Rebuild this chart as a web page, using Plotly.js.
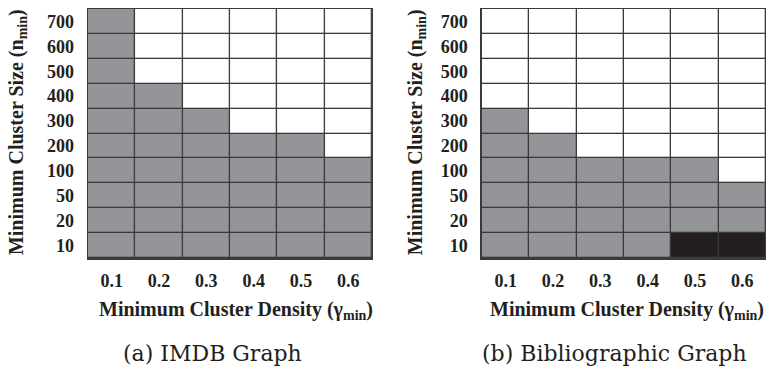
<!DOCTYPE html>
<html>
<head>
<meta charset="utf-8">
<script src="https://cdn.plot.ly/plotly-3.0.1.min.js"></script>
<style>
  html, body { margin: 0; padding: 0; background: #fff; }
  #chart { width: 766px; height: 369px; }
</style>
</head>
<body>
<div id="chart"></div>
<script>
// Minimum cluster density thresholds (columns) and minimum cluster sizes (rows, bottom to top)
const densities = ['0.1', '0.2', '0.3', '0.4', '0.5', '0.6'];
const sizes = ['10', '20', '50', '100', '200', '300', '400', '500', '600', '700'];

// Cell state per (size, density): 0 = no result, 1 = clusters found, 2 = special case (dark)
const imdbStatus = [
  [1, 1, 1, 1, 1, 1], // 10
  [1, 1, 1, 1, 1, 1], // 20
  [1, 1, 1, 1, 1, 1], // 50
  [1, 1, 1, 1, 1, 1], // 100
  [1, 1, 1, 1, 1, 0], // 200
  [1, 1, 1, 0, 0, 0], // 300
  [1, 1, 0, 0, 0, 0], // 400
  [1, 0, 0, 0, 0, 0], // 500
  [1, 0, 0, 0, 0, 0], // 600
  [1, 0, 0, 0, 0, 0]  // 700
];
const biblioStatus = [
  [1, 1, 1, 1, 2, 2], // 10
  [1, 1, 1, 1, 1, 1], // 20
  [1, 1, 1, 1, 1, 1], // 50
  [1, 1, 1, 1, 1, 0], // 100
  [1, 1, 0, 0, 0, 0], // 200
  [1, 0, 0, 0, 0, 0], // 300
  [0, 0, 0, 0, 0, 0], // 400
  [0, 0, 0, 0, 0, 0], // 500
  [0, 0, 0, 0, 0, 0], // 600
  [0, 0, 0, 0, 0, 0]  // 700
];

const captions = ['(a) IMDB Graph', '(b) Bibliographic Graph'];

const GRAY = '#939598';
const DARK = '#231f20';
const GRID = '#3a3a3a';
const stateScale = [[0, '#ffffff'], [0.33, '#ffffff'], [0.34, GRAY], [0.66, GRAY], [0.67, DARK], [1, DARK]];

function cellTrace(z, xa, ya) {
  return {
    type: 'heatmap',
    x: densities,
    y: sizes,
    z: z,
    xaxis: xa,
    yaxis: ya,
    zmin: 0,
    zmax: 2,
    colorscale: stateScale,
    showscale: false,
    xgap: 1.3,
    ygap: 1.3,
    hoverinfo: 'skip'
  };
}

const tickFont = { family: 'Liberation Serif', size: 18, color: '#231f20', weight: 'bold' };
const titleFont = { family: 'Liberation Serif', size: 20, color: '#231f20', weight: 'bold' };
const captionFont = { family: 'DejaVu Serif', size: 22, color: '#231f20' };

function xAxis(domain, anchor) {
  return {
    domain: domain, anchor: anchor, type: 'category',
    showgrid: false, zeroline: false, ticks: '',
    showline: true, mirror: true, linecolor: GRID, linewidth: 1.5,
    tickfont: tickFont, ticklabelstandoff: 6, fixedrange: true
  };
}
function yAxis(anchor) {
  return {
    domain: [0, 1], anchor: anchor, type: 'category',
    showgrid: false, zeroline: false, ticks: '',
    showline: true, mirror: true, linecolor: GRID, linewidth: 1.5,
    tickfont: tickFont, ticklabelstandoff: 9, fixedrange: true
  };
}

const yTitle = 'Minimum Cluster Size (n<sub>min</sub>)';
const xTitle = 'Minimum Cluster Density (γ<sub>min</sub>)';

const layout = {
  width: 766,
  height: 369,
  margin: { l: 0, r: 0, t: 9, b: 111 },
  paper_bgcolor: '#ffffff',
  plot_bgcolor: GRID,
  showlegend: false,
  xaxis: xAxis([0.1149, 0.4856], 'y'),
  yaxis: yAxis('x'),
  xaxis2: xAxis([0.6292, 1.0], 'y2'),
  yaxis2: yAxis('x2'),
  annotations: [
    { text: xTitle, xref: 'paper', yref: 'paper', x: 0.3075, y: -0.212, xanchor: 'center', yanchor: 'middle', showarrow: false, font: titleFont },
    { text: xTitle, xref: 'paper', yref: 'paper', x: 0.818, y: -0.212, xanchor: 'center', yanchor: 'middle', showarrow: false, font: titleFont },
    { text: yTitle, xref: 'paper', yref: 'paper', x: 0.022, y: 0.505, xanchor: 'center', yanchor: 'middle', textangle: -90, showarrow: false, font: titleFont },
    { text: yTitle, xref: 'paper', yref: 'paper', x: 0.543, y: 0.505, xanchor: 'center', yanchor: 'middle', textangle: -90, showarrow: false, font: titleFont },
    { text: captions[0], xref: 'paper', yref: 'paper', x: 0.278, y: -0.385, xanchor: 'center', yanchor: 'middle', showarrow: false, font: captionFont },
    { text: captions[1], xref: 'paper', yref: 'paper', x: 0.802, y: -0.385, xanchor: 'center', yanchor: 'middle', showarrow: false, font: captionFont }
  ]
};

Plotly.newPlot('chart', [cellTrace(imdbStatus, 'x', 'y'), cellTrace(biblioStatus, 'x2', 'y2')], layout, { displayModeBar: false, staticPlot: true });
</script>
</body>
</html>
